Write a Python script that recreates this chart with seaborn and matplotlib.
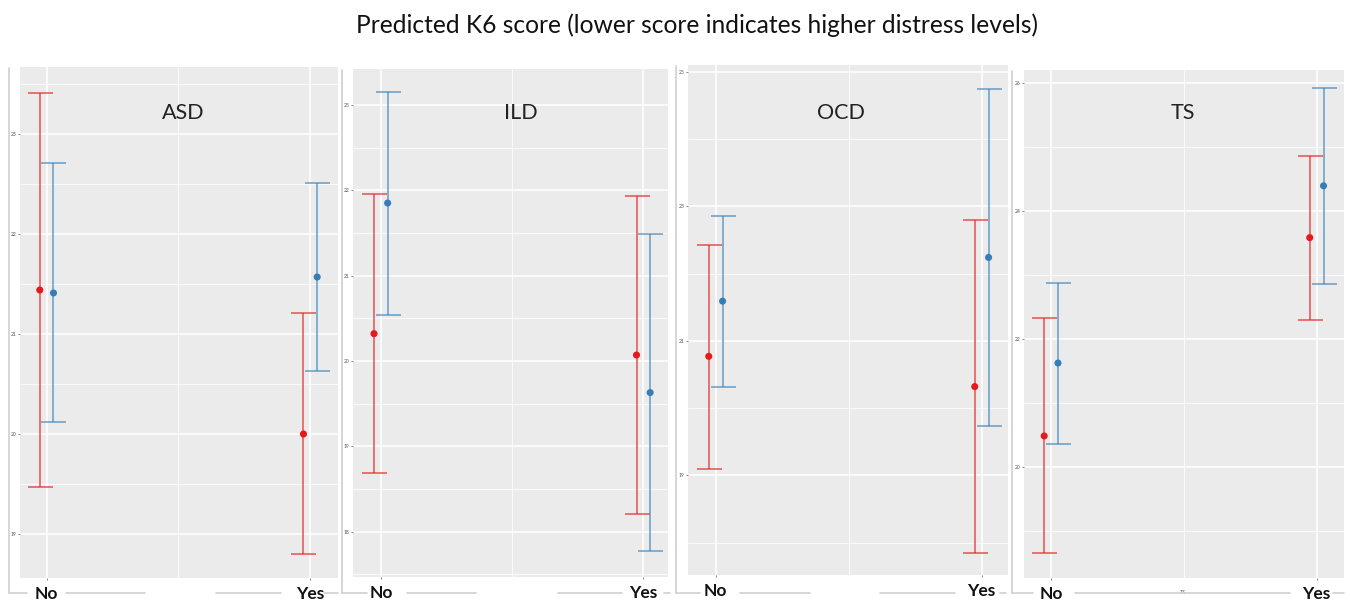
import numpy as np
import pandas as pd
import matplotlib
matplotlib.use("Agg")
import matplotlib.pyplot as plt
from matplotlib.lines import Line2D
from matplotlib.ticker import FixedLocator
import seaborn as sns

# ---------------- data ----------------
conditions = ["ASD", "ILD", "OCD", "TS"]
categories = ["No", "Yes"]
groups = ["Group 1", "Group 2"]

# point estimates and interval bounds, [No, Yes]
asd_g1 = [21.44, 20.00]; asd_g1_lo = [19.47, 18.80]; asd_g1_hi = [23.41, 21.21]
asd_g2 = [21.41, 21.57]; asd_g2_lo = [20.12, 20.63]; asd_g2_hi = [22.71, 22.51]

ild_g1 = [20.32, 20.07]; ild_g1_lo = [18.69, 18.21]; ild_g1_hi = [21.96, 21.93]
ild_g2 = [21.85, 19.63]; ild_g2_lo = [20.54, 17.77]; ild_g2_hi = [23.15, 21.49]

ocd_g1 = [20.77, 20.32]; ocd_g1_lo = [19.10, 17.84]; ocd_g1_hi = [22.43, 22.79]
ocd_g2 = [21.59, 22.24]; ocd_g2_lo = [20.31, 19.73]; ocd_g2_hi = [22.86, 24.75]

ts_g1 = [20.49, 23.59]; ts_g1_lo = [18.66, 22.31]; ts_g1_hi = [22.33, 24.86]
ts_g2 = [21.63, 24.40]; ts_g2_lo = [20.36, 22.86]; ts_g2_hi = [22.88, 25.93]

major_ticks = {
    "ASD": [19, 20, 21, 22, 23],
    "ILD": [18, 19, 20, 21, 22, 23],
    "OCD": [19, 21, 23, 25],
    "TS": [20, 22, 24, 26],
}
title = "Predicted K6 score (lower score indicates higher distress levels)"

rows = []
for cond, g1, g1lo, g1hi, g2, g2lo, g2hi in [
    ("ASD", asd_g1, asd_g1_lo, asd_g1_hi, asd_g2, asd_g2_lo, asd_g2_hi),
    ("ILD", ild_g1, ild_g1_lo, ild_g1_hi, ild_g2, ild_g2_lo, ild_g2_hi),
    ("OCD", ocd_g1, ocd_g1_lo, ocd_g1_hi, ocd_g2, ocd_g2_lo, ocd_g2_hi),
    ("TS", ts_g1, ts_g1_lo, ts_g1_hi, ts_g2, ts_g2_lo, ts_g2_hi),
]:
    for i, cat in enumerate(categories):
        rows.append(dict(cond=cond, cat=cat, ci=i, group=groups[0], est=g1[i], lo=g1lo[i], hi=g1hi[i]))
        rows.append(dict(cond=cond, cat=cat, ci=i, group=groups[1], est=g2[i], lo=g2lo[i], hi=g2hi[i]))
df = pd.DataFrame(rows)

# ---------------- style / layout ----------------
sns.set_theme(style="darkgrid", rc={
    "axes.facecolor": "#EBEBEB",
    "grid.color": "white",
    "figure.facecolor": "white",
})
plt.rcParams["font.family"] = ["Lato", "DejaVu Sans"]

W, H = 1350, 601
fig = plt.figure(figsize=(W / 100, H / 100), dpi=100)

def px_box(x0, y0, x1, y1):
    return [x0 / W, 1 - y1 / H, (x1 - x0) / W, (y1 - y0) / H]

# panel pixel boxes (x0, y0, x1, y1), axis limits
panels = {
    "ASD": dict(box=(20, 67, 338, 578), xlim=(-0.101, 1.105), ylim=(18.56, 23.67), line_x=9, title_x=183),
    "ILD": dict(box=(353, 69, 668, 577), xlim=(-0.106, 1.094), ylim=(17.47, 23.42), line_x=342, title_x=521),
    "OCD": dict(box=(688, 65, 1008, 575), xlim=(-0.104, 1.099), ylim=(17.52, 25.10), line_x=676, title_x=841),
    "TS": dict(box=(1024, 70, 1344, 578), xlim=(-0.102, 1.103), ylim=(18.27, 26.21), line_x=1012, title_x=1183),
}
bottom_segments = {
    "ASD": [(9, 27), (66, 145), (216, 281), (324, 338)],
    "ILD": [(342, 367), (407, 476), (558, 622), (664, 670)],
    "OCD": [(676, 700), (740, 810), (880, 955), (1000, 1006)],
    "TS": [(1012, 1033), (1075, 1290), (1333, 1344)],
}

palette = {groups[0]: "#E41A1C", groups[1]: "#377EB8"}
dodge = {groups[0]: -0.026, groups[1]: 0.026}
line_col = "#D0D0D0"

for cond in conditions:
    p = panels[cond]
    x0, y0, x1, y1 = p["box"]
    ax = fig.add_axes(px_box(x0, y0, x1, y1))
    sub = df[df["cond"] == cond].copy()
    sub["x"] = sub["ci"] + sub["group"].map(dodge)

    for g in groups:
        s = sub[sub["group"] == g]
        ax.errorbar(s["x"], s["est"], yerr=[s["est"] - s["lo"], s["hi"] - s["est"]],
                    fmt="none", ecolor=palette[g], alpha=0.68, elinewidth=1.2,
                    capsize=9, capthick=1.2, zorder=3)
    sns.scatterplot(data=sub, x="x", y="est", hue="group", palette=palette,
                    s=26, edgecolor="none", legend=False, ax=ax, zorder=4)

    ax.set_xlim(*p["xlim"])
    ax.set_ylim(*p["ylim"])
    ax.set_xticks([0, 1])
    ax.set_xticklabels(categories)
    ax.xaxis.set_minor_locator(FixedLocator([0.5]))
    mt = major_ticks[cond]
    step = mt[1] - mt[0]
    ax.set_yticks(mt)
    ax.set_yticklabels([str(t) for t in mt])
    lo_t = mt[0] - step / 2
    minors = np.arange(lo_t - 3 * step, mt[-1] + 3 * step, step)
    ax.yaxis.set_minor_locator(FixedLocator(minors))
    ax.grid(which="major", color="white", linewidth=1.1)
    ax.grid(which="minor", color="white", linewidth=0.55)
    ax.tick_params(axis="y", which="major", labelsize=3.6, labelcolor="#555555",
                   length=1.5, width=0.5, color="#555555", pad=1, left=True)
    ax.tick_params(axis="y", which="minor", length=0)
    ax.tick_params(axis="x", which="major", labelsize=12.5, labelcolor="#111111",
                   length=1.5, width=0.5, color="#555555", pad=4, bottom=True)
    ax.tick_params(axis="x", which="minor", length=0)
    for lab in ax.get_xticklabels():
        lab.set_fontweight("bold")
    for sp in ax.spines.values():
        sp.set_visible(False)
    ax.set_xlabel("")
    ax.set_ylabel("")
    if cond == "TS":
        ax.set_xlabel("TS", fontsize=4, color="#666666")
        ax.xaxis.set_label_coords(0.497, -0.024)

    # panel title inside the panel
    fig.text(p["title_x"] / W, 1 - 113 / H, cond, ha="center", va="center",
             fontsize=15.5, color="#222222")

    # decorative frame lines
    lx = p["line_x"]
    fig.add_artist(Line2D([lx / W, lx / W], [1 - (y0 + 1) / H, 1 - 593 / H],
                          color=line_col, linewidth=1.2))
    for a, b in bottom_segments[cond]:
        fig.add_artist(Line2D([a / W, b / W], [1 - 593 / H, 1 - 593 / H],
                              color=line_col, linewidth=1.2))

fig.text(697 / W, 1 - 25 / H, title, ha="center", va="center", fontsize=17.7, color="#111111")

fig.savefig("out.png", dpi=100)
